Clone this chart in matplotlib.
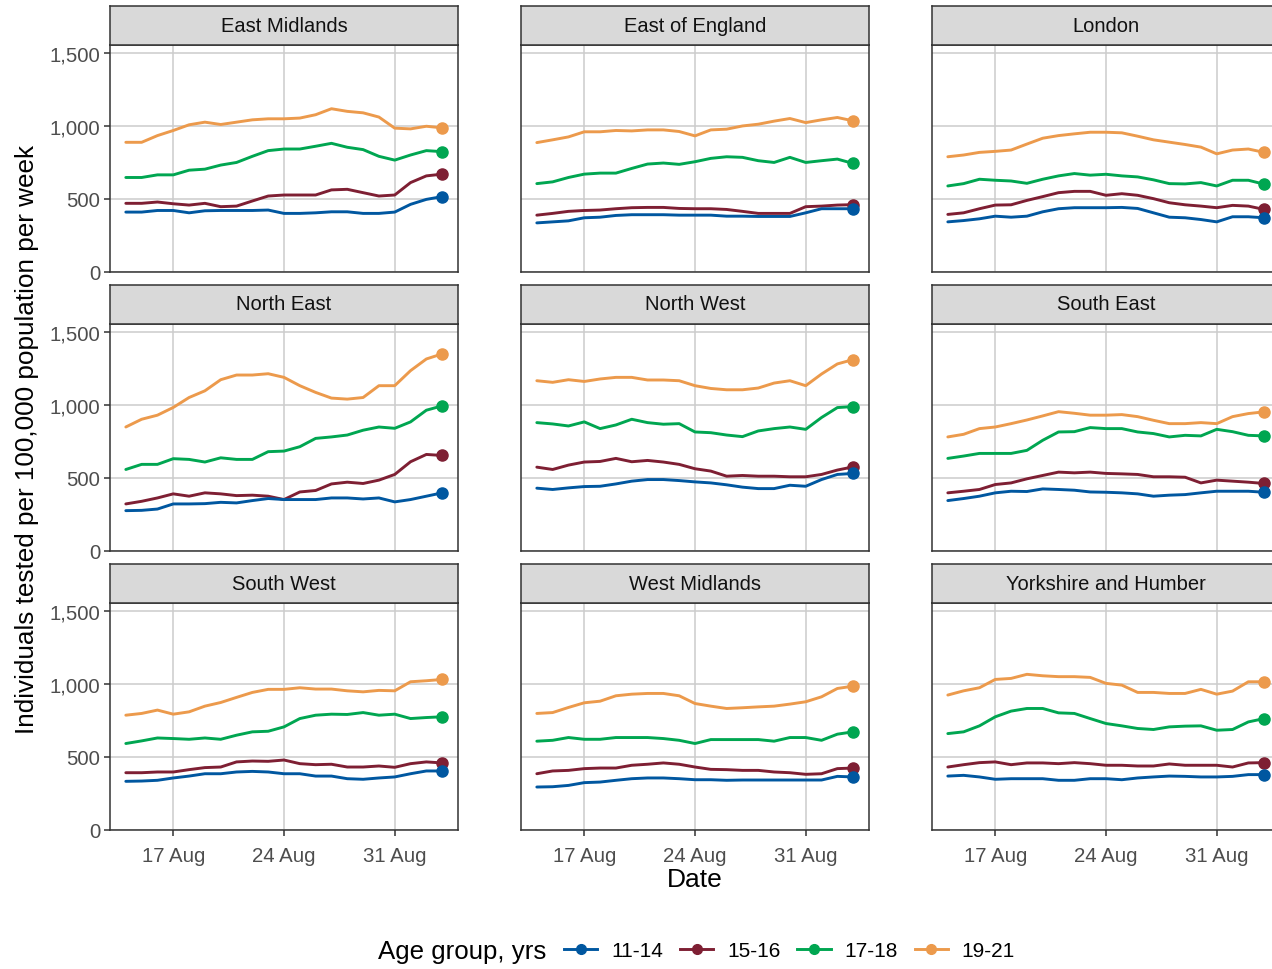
import pandas as pd
import matplotlib
matplotlib.use("Agg")
import matplotlib.pyplot as plt
import matplotlib.dates as mdates
from matplotlib.lines import Line2D
from matplotlib.ticker import FuncFormatter

plt.rcParams['font.family'] = ['Liberation Sans', 'DejaVu Sans']

dates = pd.date_range("2021-08-14", "2021-09-03", freq="D")
age_groups = ["11-14", "15-16", "17-18", "19-21"]
colours = ["#0057A0", "#7E1F33", "#00A651", "#EC9A4C"]
regions = ["East Midlands", "East of England", "London",
           "North East", "North West", "South East",
           "South West", "West Midlands", "Yorkshire and Humber"]

# rate per 100,000 per week, one row per age group (11-14, 15-16, 17-18, 19-21)
east_midlands = [
    [407, 407, 418, 418, 402, 416, 418, 418, 418, 421, 398, 398, 402, 409, 409, 398, 398, 407, 460, 494, 513],
    [467, 467, 476, 464, 455, 467, 444, 448, 483, 517, 524, 524, 524, 559, 563, 540, 517, 524, 609, 655, 667],
    [644, 644, 662, 662, 694, 701, 729, 747, 789, 828, 839, 839, 858, 878, 851, 835, 789, 763, 798, 828, 821],
    [885, 885, 931, 966, 1005, 1023, 1007, 1023, 1039, 1046, 1046, 1051, 1074, 1115, 1097, 1087, 1058, 982, 977, 995, 984],
]
east_of_england = [
    [333, 340, 347, 368, 372, 384, 389, 389, 389, 386, 386, 386, 379, 379, 377, 377, 377, 402, 430, 430, 430],
    [386, 398, 412, 418, 421, 430, 437, 439, 439, 432, 430, 430, 425, 412, 398, 398, 398, 444, 448, 455, 458],
    [602, 614, 644, 667, 674, 674, 706, 736, 743, 734, 752, 775, 786, 782, 759, 747, 782, 747, 759, 770, 740],
    [883, 902, 922, 957, 957, 966, 963, 970, 970, 959, 929, 970, 975, 997, 1009, 1030, 1048, 1020, 1039, 1055, 1032],
]
london = [
    [340, 349, 361, 379, 372, 379, 409, 430, 437, 437, 437, 439, 432, 402, 372, 368, 356, 340, 375, 375, 368],
    [391, 402, 430, 455, 457, 487, 513, 540, 549, 549, 522, 533, 522, 499, 471, 457, 448, 437, 453, 448, 425],
    [586, 602, 632, 625, 620, 604, 632, 655, 671, 660, 666, 655, 648, 628, 602, 600, 609, 586, 625, 625, 598],
    [786, 798, 816, 823, 832, 873, 913, 931, 943, 954, 954, 950, 927, 902, 886, 870, 852, 806, 832, 839, 816],
]
north_east = [
    [273, 275, 284, 319, 319, 321, 330, 326, 342, 356, 349, 349, 349, 360, 360, 353, 360, 333, 349, 372, 395],
    [319, 337, 360, 388, 372, 395, 388, 376, 379, 372, 349, 401, 411, 456, 468, 459, 482, 521, 608, 658, 651],
    [555, 590, 590, 629, 624, 606, 635, 624, 624, 677, 681, 711, 768, 778, 791, 824, 846, 837, 881, 961, 991],
    [846, 899, 927, 980, 1048, 1094, 1170, 1202, 1202, 1211, 1186, 1129, 1083, 1044, 1037, 1048, 1129, 1129, 1232, 1312, 1347],
]
north_west = [
    [427, 418, 429, 438, 440, 456, 475, 486, 486, 479, 470, 463, 450, 434, 424, 424, 447, 440, 486, 521, 528],
    [571, 555, 585, 606, 610, 631, 608, 617, 606, 590, 560, 544, 509, 514, 509, 509, 505, 505, 521, 551, 573],
    [876, 867, 853, 881, 835, 860, 899, 876, 865, 869, 812, 807, 791, 780, 819, 835, 846, 830, 911, 979, 986],
    [1163, 1152, 1170, 1158, 1175, 1186, 1186, 1168, 1168, 1163, 1129, 1110, 1101, 1101, 1113, 1147, 1163, 1129, 1209, 1278, 1308],
]
south_east = [
    [342, 356, 372, 395, 406, 404, 422, 418, 413, 401, 399, 395, 388, 372, 379, 383, 395, 406, 406, 406, 399],
    [395, 406, 418, 452, 463, 491, 514, 537, 532, 537, 528, 525, 521, 505, 505, 502, 463, 482, 475, 468, 459],
    [631, 647, 665, 665, 665, 686, 755, 812, 814, 842, 835, 835, 812, 801, 778, 789, 785, 830, 814, 789, 785],
    [778, 796, 835, 846, 869, 894, 922, 951, 940, 927, 927, 931, 917, 892, 869, 869, 876, 869, 917, 938, 950],
]
south_west = [
    [330, 332, 337, 353, 366, 382, 382, 394, 398, 394, 382, 382, 366, 366, 348, 344, 353, 360, 382, 401, 401],
    [389, 389, 394, 394, 410, 424, 428, 463, 469, 467, 476, 451, 444, 447, 428, 428, 435, 426, 451, 463, 456],
    [589, 607, 627, 623, 618, 627, 618, 646, 669, 673, 703, 760, 783, 790, 788, 801, 783, 790, 760, 767, 772],
    [783, 795, 818, 790, 806, 845, 870, 905, 939, 960, 960, 971, 962, 962, 950, 943, 953, 950, 1012, 1019, 1028],
]
west_midlands = [
    [291, 293, 302, 321, 325, 337, 348, 353, 353, 348, 341, 341, 337, 339, 339, 339, 339, 339, 339, 364, 360],
    [382, 401, 405, 417, 421, 421, 440, 447, 456, 447, 428, 412, 410, 405, 405, 394, 389, 378, 382, 417, 421],
    [605, 611, 630, 618, 618, 630, 630, 630, 623, 611, 589, 616, 616, 616, 616, 605, 630, 630, 611, 653, 669],
    [795, 801, 836, 868, 879, 916, 927, 932, 932, 916, 863, 845, 829, 834, 840, 845, 859, 875, 909, 966, 982],
]
yorkshire_humber = [
    [366, 371, 360, 344, 348, 348, 348, 337, 337, 348, 348, 341, 353, 360, 366, 364, 360, 360, 364, 376, 376],
    [428, 444, 458, 463, 444, 456, 456, 451, 458, 451, 440, 440, 435, 435, 449, 440, 440, 440, 428, 456, 458],
    [657, 669, 710, 772, 811, 829, 829, 799, 795, 760, 726, 710, 692, 685, 703, 708, 710, 680, 685, 737, 760],
    [921, 950, 971, 1028, 1035, 1063, 1053, 1047, 1047, 1042, 1001, 989, 939, 939, 932, 932, 960, 927, 948, 1012, 1012],
]

series = [east_midlands, east_of_england, london, north_east, north_west,
          south_east, south_west, west_midlands, yorkshire_humber]

W, H = 1272, 970
fig = plt.figure(figsize=(W / 100, H / 100), dpi=100)

col_left = [110, 521, 932]
panel_w = 348
panel_bottom = [272.5, 551.5, 830.5]
panel_h = 227
strip_h = 39
frame_col = "#333333"
grid_col = "#CCCCCC"
tick_col = "#4D4D4D"

def px_axes(x0, y_top, w, h):
    return fig.add_axes([x0 / W, 1 - (y_top + h) / H, w / W, h / H])

for k, region in enumerate(regions):
    r, c = divmod(k, 3)
    top = panel_bottom[r] - panel_h
    ax = px_axes(col_left[c], top, panel_w, panel_h)

    # later age groups first so the younger ones sit on top
    for g in reversed(range(4)):
        vals = series[k][g]
        ax.plot(dates, vals, color=colours[g], lw=2.1, solid_capstyle="round", zorder=3)
        ax.plot(dates[-1], vals[-1], "o", color=colours[g], ms=8, zorder=4)

    ax.set_xlim(pd.Timestamp("2021-08-13"), pd.Timestamp("2021-09-04"))
    ax.set_ylim(0, 1555)
    ax.set_yticks([0, 500, 1000, 1500])
    ax.yaxis.set_major_formatter(FuncFormatter(lambda v, p: f"{int(v):,}"))
    ax.set_xticks(pd.to_datetime(["2021-08-17", "2021-08-24", "2021-08-31"]))
    ax.xaxis.set_major_formatter(mdates.DateFormatter("%d %b"))
    ax.grid(True, color=grid_col, lw=1.1, zorder=0)
    ax.set_axisbelow(True)
    for s in ax.spines.values():
        s.set_color(frame_col)
        s.set_linewidth(1.1)
    ax.tick_params(colors=frame_col, labelcolor=tick_col, labelsize=14.7,
                   length=4, width=1.1, pad=3)
    ax.tick_params(axis="x", pad=8)
    if c != 0:
        ax.tick_params(axis="y", left=False, labelleft=False)
    if r != 2:
        ax.tick_params(axis="x", bottom=False, labelbottom=False)

    # facet strip
    sax = px_axes(col_left[c], top - strip_h, panel_w, strip_h)
    sax.set_facecolor("#D9D9D9")
    sax.set_xticks([])
    sax.set_yticks([])
    for s in sax.spines.values():
        s.set_color(frame_col)
        s.set_linewidth(1.1)
    sax.text(0.5, 0.5, region, ha="center", va="center", fontsize=14.5,
             color="#111111", transform=sax.transAxes)

fig.text(695 / W, 1 - 880 / H, "Date", ha="center", va="center", fontsize=19)
fig.text(27 / W, 1 - 440 / H, "Individuals tested per 100,000 population per week",
         ha="center", va="center", rotation=90, fontsize=18.8)

fig.text(378 / W, 1 - 952 / H, "Age group, yrs", ha="left", va="center", fontsize=18.6)
handles = [Line2D([0], [0], color=col, lw=2.1, marker="o", ms=7) for col in colours]
fig.legend(handles, age_groups, loc="center left", bbox_to_anchor=(564 / W, 1 - 952 / H),
           ncol=4, frameon=False, fontsize=15, handlelength=1.6, handletextpad=0.67,
           columnspacing=0.8, borderpad=0, borderaxespad=0)

fig.savefig("out.png", dpi=100)
